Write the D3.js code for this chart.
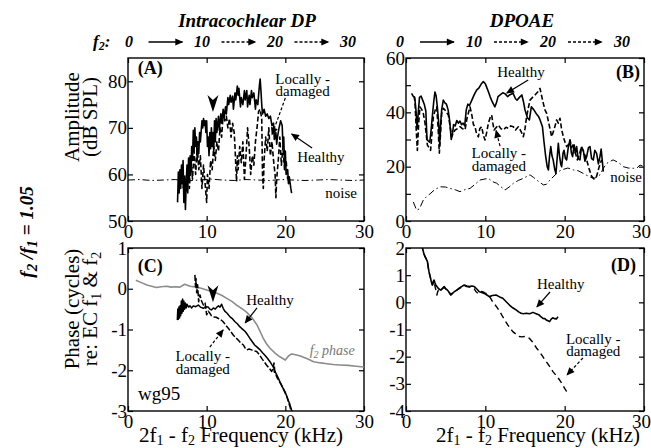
<!DOCTYPE html>
<html><head><meta charset="utf-8">
<script src="https://cdn.jsdelivr.net/npm/d3@7"></script>
<style>
body{margin:0;background:#fff;}
svg{display:block;}
</style></head><body>
<svg id="c" width="651" height="448"></svg>
<script>
// ---------------- DATA ----------------
const freqTicks = [0, 10, 20, 30];
const f2Labels = [0, 10, 20, 30];
const ampIntraTicks = [50, 60, 70, 80];
const ampOaeTicks = [0, 10, 20, 30, 40, 50, 60];
const ampOaeLabels = [0, 20, 40, 60];
const phaseIntraTicks = [-3, -2, -1, 0, 1];
const phaseOaeTicks = [-4, -3, -2, -1, 0, 1, 2];

// (A) intracochlear DP amplitude, dB SPL vs 2f1-f2 kHz
const ampIntraHealthy = [[6.3,54],[6.4,60.5],[6.5,56],[6.6,61],[6.7,57],[6.8,62],[6.9,58],[7.0,63],[7.1,54],[7.2,59],[7.3,52.5],[7.4,58],[7.5,62],[7.6,56],[7.7,63.5],[7.8,59],[7.9,64],[8.0,60],[8.1,66],[8.2,63],[8.3,69.5],[8.4,65],[8.5,70],[8.6,66],[8.7,68],[8.8,63],[8.9,67],[9.0,64.5],[9.1,69],[9.2,67],[9.4,71.5],[9.5,70],[9.6,72],[9.7,70.5],[9.8,71.5],[9.9,69],[10.0,71.5],[10.1,66],[10.2,68],[10.3,64],[10.4,69],[10.5,65.5],[10.6,70],[10.7,66],[10.8,69],[10.9,65],[11.0,71.5],[11.1,67],[11.2,72],[11.3,69],[11.5,72.5],[11.6,69.5],[11.8,73],[11.9,71],[12.1,74],[12.2,72],[12.4,74.5],[12.5,73],[12.7,76.5],[12.8,75],[13.0,77],[13.1,75.5],[13.3,76.8],[13.4,74],[13.6,77.5],[13.7,76],[13.9,79],[14.0,77],[14.1,78.5],[14.3,74.5],[14.4,76.5],[14.6,75],[14.8,78],[14.9,76],[15.1,78],[15.2,74.5],[15.4,77],[15.5,75],[15.7,78],[15.8,76.5],[16.0,77.5],[16.2,74],[16.3,76],[16.5,75],[16.7,79],[16.8,80.5],[16.9,78],[17.0,75],[17.1,73],[17.3,74],[17.5,72.5],[17.7,73],[17.9,72],[18.1,72.5],[18.3,70.5],[18.5,71],[18.6,67.5],[18.8,69],[18.9,66.5],[19.0,68],[19.2,70],[19.4,71.5],[19.6,70.5],[19.7,66],[19.8,68],[19.9,62],[20.0,65],[20.1,60],[20.3,61],[20.4,58],[20.5,59.5],[20.7,57],[20.8,56]];
const ampIntraDamaged = [[7.0,57],[7.2,60],[7.4,56.5],[7.6,61],[7.8,57],[8.0,63],[8.2,59],[8.4,65],[8.6,60],[8.8,66],[9.0,61],[9.2,64],[9.4,57],[9.6,62],[9.8,58],[10.0,54],[10.1,60],[10.3,57],[10.5,63],[10.7,61],[10.9,66],[11.1,63],[11.3,67],[11.5,65],[11.7,70],[11.9,68],[12.1,73],[12.3,71.5],[12.5,72.5],[12.7,70],[12.9,72],[13.1,68],[13.3,71],[13.5,69],[13.6,66],[13.7,62],[13.8,58.5],[13.9,64],[14.0,61],[14.2,66],[14.4,62.5],[14.6,67],[14.8,59],[15.0,64],[15.2,70],[15.4,66],[15.6,60],[15.8,64],[16.0,62],[16.2,67],[16.4,70],[16.6,73.5],[16.8,74],[17.0,72],[17.1,60],[17.2,57],[17.3,63],[17.5,68],[17.7,65],[17.9,70],[18.1,64],[18.3,67],[18.5,63],[18.7,60],[18.8,55],[18.9,59],[19.1,63],[19.3,68],[19.5,62],[19.7,66],[19.9,61],[20.1,63],[20.3,59]];
const ampIntraNoise = [[0,58.8],[1.5,58.9],[3,58.7],[4.5,58.8],[6,58.9],[7.5,58.6],[9,58.8],[10.5,59],[12,58.8],[13.5,58.7],[15,58.9],[16.5,58.8],[18,58.7],[19.5,58.9],[21,58.8],[22.5,58.7],[24,58.8],[25.5,58.9],[27,58.8],[28.5,58.7],[30,58.8]];

// (B) DPOAE amplitude
const ampOaeHealthy = [[0.7,47],[0.9,46],[1.1,45.5],[1.25,41],[1.4,34],[1.55,40],[1.7,45.5],[1.9,46],[2.1,44.5],[2.3,43],[2.5,40.5],[2.65,30],[2.8,29.5],[3.0,29],[3.15,33],[3.35,39.5],[3.5,44],[3.65,47.5],[3.8,46],[3.95,42],[4.1,37],[4.25,28],[4.35,35],[4.5,41],[4.7,44.5],[4.9,43.5],[5.1,43],[5.3,41],[5.5,37],[5.7,30],[5.85,32],[6.0,35.5],[6.2,35],[6.4,37],[6.6,36],[6.8,36.8],[7.0,35.5],[7.2,36],[7.4,35],[7.6,41],[7.8,43],[8.0,42.5],[8.3,44.5],[8.6,46.5],[8.9,48.2],[9.2,49],[9.5,50.5],[9.75,51.3],[10.0,50.5],[10.2,49],[10.4,47.5],[10.6,45.8],[10.85,44],[11.2,42],[11.4,43.5],[11.6,45.8],[11.9,46.5],[12.2,47.2],[12.5,46.8],[12.8,45.8],[13.1,46.5],[13.5,47],[13.8,45],[14.0,44.5],[14.3,45.5],[14.6,46.4],[14.8,44],[15.0,40.9],[15.3,38],[15.55,37.2],[15.8,42],[16.1,41],[16.4,39.6],[16.7,38.5],[16.9,37.2],[17.2,34.7],[17.4,29],[17.6,24],[17.8,20],[17.95,18.8],[18.1,24],[18.25,27.4],[18.4,24],[18.55,22.5],[18.75,19],[18.9,17.5],[19.05,23],[19.2,28.6],[19.35,24],[19.5,21],[19.62,20],[19.8,25],[19.92,26],[20.1,23],[20.25,22.5],[20.45,27],[20.67,29.8],[20.85,25],[21.0,23.7],[21.2,28],[21.35,25],[21.51,27.4],[21.7,23],[21.93,22.5],[22.1,27],[22.35,26],[22.55,22],[22.77,23.7],[23.0,27],[23.19,27.4],[23.4,23],[23.61,22.5],[23.8,26],[24.03,24.9],[24.25,21],[24.45,23.7],[24.6,26.5],[24.75,22],[24.87,18.2]];
const ampOaeDamaged = [[1.0,46],[1.13,44],[1.3,33],[1.43,26],[1.6,36],[1.76,42],[2.0,41],[2.18,39.6],[2.4,36],[2.69,28],[2.9,27],[3.1,26],[3.3,33],[3.45,38.4],[3.7,41],[3.87,42],[4.05,34],[4.2,25],[4.35,32],[4.5,39.6],[4.7,41.5],[4.9,40.9],[5.1,40],[5.34,39],[5.55,35],[5.76,31],[6.0,32.5],[6.18,33.5],[6.5,34],[6.81,34.7],[7.1,34],[7.44,33.5],[7.7,38],[8.07,42],[8.3,39],[8.5,35.5],[8.7,34.7],[8.9,32],[9.12,31],[9.3,34],[9.54,34.7],[9.75,31.5],[9.96,29.8],[10.2,33],[10.38,36],[10.6,38],[10.8,39],[10.95,36],[11.1,33.5],[11.4,34.5],[11.64,35.3],[11.95,34],[12.27,33.5],[12.6,34.5],[12.9,34.1],[13.2,35],[13.53,34.7],[13.8,33.5],[14.16,34.7],[14.5,33],[14.79,31],[15.0,34],[15.2,38.4],[15.45,42],[15.63,44.5],[15.95,45.5],[16.26,46.4],[16.6,47.5],[16.89,48.8],[17.1,46],[17.31,43.3],[17.5,41],[17.73,39.6],[18.0,36],[18.36,31],[18.7,34],[18.99,37.2],[19.2,36],[19.41,37.8],[19.6,34],[19.83,31],[20.05,29],[20.25,27.4],[20.45,28],[20.67,29.8],[20.9,27],[21.09,28.6],[21.35,25],[21.6,22.5],[21.9,25],[22.14,27.4],[22.45,25],[22.77,22.5],[23.1,19],[23.4,16.5],[23.7,15.5],[24.03,16.5],[24.35,20],[24.66,22.5]];
const ampOaeNoise = [[0.92,7],[1.34,4],[1.7,4.5],[2.18,7.7],[2.6,9],[3.03,10],[3.6,11.5],[4.29,12.6],[5.0,12.5],[5.55,12],[6.2,11.5],[6.81,10.8],[7.4,11.5],[8.07,12],[8.7,13.5],[9.33,15.1],[10.38,15.7],[10.9,14.5],[11.43,13.9],[12.0,12.5],[12.48,11.4],[13.0,12.5],[13.53,13.9],[14.2,15],[14.79,15.7],[15.63,17],[16.1,16],[16.47,15.1],[17.31,13.3],[17.7,13.5],[18.15,15.1],[18.99,17.5],[19.4,18.5],[19.83,19],[20.4,19.5],[21.1,18.8],[21.7,18.5],[22.35,17.5],[23.0,16.5],[23.6,15.7],[24.0,16],[24.45,17],[24.9,19.5],[25.3,21.2],[26.1,22.5],[26.8,21.5],[27.4,20],[28.0,19.5],[28.66,19.4],[29.1,19.5],[29.5,20.6],[30,20]];

// (C) intracochlear DP phase, cycles
const phaseIntraHealthy = [[6.27,-0.77],[6.33,-0.5],[6.4,-0.75],[6.47,-0.45],[6.55,-0.72],[6.62,-0.42],[6.7,-0.66],[6.78,-0.3],[6.86,-0.6],[6.94,-0.25],[7.03,-0.55],[7.1,-0.3],[7.2,-0.5],[7.3,-0.35],[7.4,-0.47],[7.5,-0.38],[7.7,-0.45],[7.88,-0.42],[8.1,-0.47],[8.3,-0.42],[8.6,-0.44],[8.94,-0.4],[9.2,-0.45],[9.58,-0.48],[9.9,-0.44],[10.2,-0.45],[10.4,-0.5],[10.6,-0.52],[10.85,-0.47],[11.1,-0.5],[11.3,-0.45],[11.5,-0.42],[11.7,-0.45],[11.9,-0.38],[12.1,-0.48],[12.3,-0.55],[12.6,-0.6],[12.97,-0.69],[13.3,-0.74],[13.6,-0.81],[13.9,-0.86],[14.2,-0.93],[14.55,-0.99],[14.9,-1.05],[15.2,-1.13],[15.5,-1.22],[15.8,-1.3],[16.1,-1.38],[16.45,-1.44],[16.8,-1.5],[17.1,-1.57],[17.4,-1.63],[17.7,-1.7],[18.05,-1.79],[18.4,-1.9],[18.55,-1.95],[18.6,-2.05],[18.7,-2.03],[19.0,-2.15],[19.3,-2.28],[19.6,-2.4],[19.96,-2.53],[20.3,-2.7],[20.6,-2.85],[20.9,-3.05]];
const phaseIntraDamaged = [[8.5,0.34],[8.58,0.05],[8.65,0.25],[8.73,-0.1],[8.85,0.1],[8.98,-0.32],[9.15,-0.15],[9.35,-0.3],[9.58,-0.4],[9.8,-0.35],[10.0,-0.64],[10.2,-0.55],[10.4,-0.6],[10.6,-0.66],[10.85,-0.69],[11.2,-0.7],[11.5,-0.73],[11.8,-0.76],[12.1,-0.81],[12.45,-0.9],[12.75,-0.97],[13.1,-1.06],[13.4,-1.14],[13.7,-1.2],[14.0,-1.26],[14.3,-1.32],[14.66,-1.38],[14.9,-1.46],[15.1,-1.5],[15.4,-1.48],[15.7,-1.5],[16.0,-1.52],[16.36,-1.54],[16.7,-1.62],[17.0,-1.71],[17.3,-1.79],[17.6,-1.87],[17.95,-1.95],[18.26,-2.03],[18.45,-1.95],[18.56,-1.82],[18.65,-2.0],[18.9,-2.16],[19.2,-2.26],[19.5,-2.36],[19.85,-2.5],[20.2,-2.65],[20.4,-2.78],[20.6,-2.9],[20.8,-3.05]];
const phaseF2 = [[1.0,0.21],[1.7,0.15],[2.4,0.09],[3.0,0.06],[3.6,0.03],[4.2,0.05],[4.9,0.06],[5.5,0.04],[6.0,0.05],[6.6,0.04],[7.2,0.11],[7.9,0.06],[8.7,0.04],[9.3,0.01],[10.0,-0.03],[10.7,-0.07],[11.3,-0.11],[11.9,-0.16],[12.5,-0.23],[13.2,-0.31],[13.8,-0.4],[14.5,-0.49],[15.1,-0.58],[15.8,-0.72],[16.4,-0.89],[16.8,-1.05],[17.2,-1.22],[17.6,-1.35],[18.05,-1.46],[18.7,-1.58],[19.3,-1.67],[20.0,-1.75],[20.4,-1.65],[20.8,-1.6],[21.3,-1.62],[21.9,-1.65],[22.8,-1.72],[23.6,-1.79],[24.5,-1.82],[25.3,-1.84],[26.1,-1.86],[26.9,-1.87],[28,-1.88],[29,-1.9],[30,-1.92]];

// (D) DPOAE phase
const phaseOaeHealthy = [[1.95,2.15],[2.07,2.0],[2.25,1.8],[2.4,1.68],[2.55,1.6],[2.7,1.5],[2.8,1.3],[2.9,1.13],[3.0,1.0],[3.1,0.88],[3.2,0.75],[3.33,0.64],[3.45,0.78],[3.54,0.82],[3.65,0.72],[3.75,0.64],[3.9,0.58],[4.05,0.52],[4.2,0.48],[4.39,0.45],[4.6,0.52],[4.81,0.58],[5.0,0.5],[5.23,0.45],[5.45,0.36],[5.65,0.27],[5.85,0.33],[6.08,0.39],[6.4,0.45],[6.7,0.52],[7.0,0.58],[7.34,0.64],[7.65,0.6],[7.97,0.58],[8.3,0.6],[8.6,0.58],[8.9,0.5],[9.24,0.39],[9.55,0.36],[9.87,0.33],[10.2,0.27],[10.5,0.21],[10.9,0.25],[11.35,0.27],[11.8,0.2],[12.2,0.15],[12.6,0.03],[13.04,-0.1],[13.45,-0.2],[13.88,-0.28],[14.2,-0.35],[14.5,-0.4],[14.8,-0.42],[15.15,-0.4],[15.6,-0.42],[16.0,-0.37],[16.4,-0.42],[16.8,-0.47],[17.0,-0.53],[17.26,-0.59],[17.5,-0.6],[17.68,-0.65],[17.9,-0.68],[18.1,-0.71],[18.3,-0.62],[18.5,-0.57],[18.7,-0.6],[18.95,-0.61],[19.16,-0.53]];
const phaseOaeDamaged = [[1.95,2.15],[2.07,2.0],[2.25,1.8],[2.4,1.68],[2.55,1.6],[2.7,1.5],[2.8,1.3],[2.9,1.13],[3.0,1.0],[3.1,0.88],[3.2,0.75],[3.33,0.64],[3.5,0.78],[3.65,0.6],[3.8,0.4],[3.9,0.27],[4.0,0.4],[4.2,0.48],[4.39,0.45],[4.6,0.5],[4.81,0.55],[5.0,0.5],[5.23,0.45],[5.45,0.36],[5.65,0.28],[5.85,0.33],[6.08,0.39],[6.4,0.45],[6.7,0.5],[7.0,0.56],[7.34,0.62],[7.65,0.58],[7.97,0.56],[8.3,0.55],[8.6,0.5],[8.8,0.4],[9.0,0.35],[9.24,0.42],[9.66,0.39],[10.0,0.34],[10.3,0.3],[10.6,0.18],[10.93,0.02],[11.25,-0.1],[11.56,-0.22],[11.9,-0.38],[12.19,-0.53],[12.5,-0.68],[12.83,-0.83],[13.15,-0.96],[13.46,-1.08],[13.9,-1.18],[14.3,-1.26],[14.6,-1.27],[14.94,-1.26],[15.25,-1.28],[15.57,-1.33],[15.9,-1.44],[16.2,-1.57],[16.5,-1.7],[16.84,-1.82],[17.25,-2.0],[17.68,-2.18],[18.1,-2.36],[18.52,-2.55],[18.95,-2.7],[19.37,-2.86],[19.7,-3.01],[20.0,-3.17],[20.2,-3.26],[20.42,-3.35]];

// ---------------- DRAWING ----------------
const FONT = '"Liberation Serif"';
// prime font loading (all styles) before drawing
(function(){
  const cv = document.createElement("canvas").getContext("2d");
  ["", "bold ", "italic ", "italic bold "].forEach(v => {
    cv.font = `${v}20px "Liberation Serif", monospace`;
    cv.measureText("Intracochlear DP 0123456789 (A)");
  });
  if (document.fonts && document.fonts.check) {
    ["", "bold ", "italic ", "italic bold "].forEach(v => document.fonts.check(`${v}20px "Liberation Serif"`));
  }
})();

const svg = d3.select("#c");
svg.append("rect").attr("width", 651).attr("height", 448).attr("fill", "#fff");
const defs = svg.append("defs");
defs.append("marker").attr("id", "ah").attr("viewBox", "0 0 10 10")
  .attr("refX", 9).attr("refY", 5).attr("markerWidth", 9).attr("markerHeight", 8)
  .attr("markerUnits", "userSpaceOnUse").attr("orient", "auto")
  .append("path").attr("d", "M0,0.5 L10,5 L0,9.5 Z").attr("fill", "#000");

const panelDefs = {
  A: {x0:128, x1:364, y0:58, y1:221, ydom:[50,85], ticks:ampIntraTicks, labels:ampIntraTicks, xpad:3},
  B: {x0:406, x1:644, y0:58, y1:221, ydom:[0,60], ticks:ampOaeTicks, labels:ampOaeLabels, xpad:3},
  C: {x0:128, x1:364, y0:248, y1:411, ydom:[-3,1], ticks:phaseIntraTicks, labels:phaseIntraTicks, xpad:4},
  D: {x0:406, x1:644, y0:248, y1:411, ydom:[-4,2], ticks:phaseOaeTicks, labels:phaseOaeTicks, xpad:4}
};
const P = {};
Object.entries(panelDefs).forEach(([id, c]) => {
  const x = d3.scaleLinear().domain([0,30]).range([c.x0, c.x1]);
  const y = d3.scaleLinear().domain(c.ydom).range([c.y1, c.y0]);
  const g = svg.append("g");
  defs.append("clipPath").attr("id", "clip" + id).append("rect")
    .attr("x", c.x0).attr("y", c.y0).attr("width", c.x1 - c.x0).attr("height", c.y1 - c.y0);
  const ax = (axis, tx, ty) => {
    const a = g.append("g").attr("transform", `translate(${tx},${ty})`).call(axis);
    a.attr("font-family", null).attr("font-size", 19);
    a.select(".domain").remove();
    a.selectAll("line").attr("stroke", "#000").attr("stroke-width", 1.2);
    a.selectAll("text").attr("fill", "#000");
    return a;
  };
  ax(d3.axisLeft(y).tickValues(c.ticks).tickSize(-5).tickFormat(""), c.x0, 0);
  ax(d3.axisRight(y).tickValues(c.ticks).tickSize(-5).tickFormat(""), c.x1, 0);
  ax(d3.axisTop(x).tickValues(freqTicks).tickSize(-5).tickFormat(""), 0, c.y0);
  ax(d3.axisBottom(x).tickValues(freqTicks).tickSize(-5).tickFormat(""), 0, c.y1);
  ax(d3.axisLeft(y).tickValues(c.labels).tickSize(0).tickPadding(1).tickFormat(d => String(d)), c.x0, 0);
  const xl = ax(d3.axisBottom(x).tickValues(freqTicks).tickSize(0).tickPadding(c.xpad).tickFormat(d => String(d)), 0, c.y1);
  if (c.x1 > 600) xl.selectAll("text").filter(d => d === 30).attr("dx", -3);
  g.append("rect").attr("x", c.x0).attr("y", c.y0).attr("width", c.x1 - c.x0).attr("height", c.y1 - c.y0)
    .attr("fill", "none").attr("stroke", "#000").attr("stroke-width", 1.4);
  const plot = svg.append("g").attr("clip-path", `url(#clip${id})`);
  P[id] = {x, y, g, plot, c};
});

function series(id, data, style) {
  const {x, y, plot} = P[id];
  const line = d3.line().x(d => x(d[0])).y(d => y(d[1]));
  plot.append("path").datum(data).attr("d", line).attr("fill", "none")
    .attr("stroke", style.color || "#000").attr("stroke-width", style.w || 1.5)
    .attr("stroke-dasharray", style.dash || null).attr("stroke-linejoin", "round");
}
const SOLID = {w:1.6}, DASH = {w:1.6, dash:"5,2.5"}, NOISE = {w:1, dash:"7,3,1.5,3"};
series("A", ampIntraNoise, NOISE);
series("A", ampIntraDamaged, DASH);
series("A", ampIntraHealthy, SOLID);
series("B", ampOaeNoise, NOISE);
series("B", ampOaeDamaged, DASH);
series("B", ampOaeHealthy, SOLID);
series("C", phaseF2, {w:1.6, color:"#8c8c8c"});
series("C", phaseIntraDamaged, {w:1.5, dash:"6,2"});
series("C", phaseIntraHealthy, {w:1.5});
series("D", phaseOaeDamaged, {w:1.4, dash:"6,4"});
series("D", phaseOaeHealthy, {w:1.6});

function txt(id, xv, yv, s, o = {}) {
  const {x, y} = P[id];
  return svg.append("text").attr("x", x(xv)).attr("y", y(yv)).text(s)
    .attr("font-size", o.size || 14).attr("text-anchor", o.anchor || "middle")
    .attr("font-weight", o.weight || null).attr("font-style", o.style || null)
    .attr("fill", o.color || "#000");
}
function arrow(id, xa, ya, xb, yb, dashed) {
  const {x, y} = P[id];
  svg.append("line").attr("x1", x(xa)).attr("y1", y(ya)).attr("x2", x(xb)).attr("y2", y(yb))
    .attr("stroke", "#000").attr("stroke-width", 1.2)
    .attr("stroke-dasharray", dashed ? "3,2" : null).attr("marker-end", "url(#ah)");
}
function downMark(id, xv, yv) {
  const {x, y} = P[id];
  const cx = x(xv), ty = y(yv);
  svg.append("path").attr("d", `M${cx},${ty} L${cx-5.5},${ty-17} L${cx},${ty-12} L${cx+5.5},${ty-17} Z`).attr("fill", "#000");
}

// Panel labels
txt("A", 1.25, 81.5, "(A)", {size:18, weight:"bold", anchor:"start"});
txt("B", 29.5, 52.5, "(B)", {size:18, weight:"bold", anchor:"end"});
txt("C", 1.25, 0.41, "(C)", {size:18, weight:"bold", anchor:"start"});
txt("D", 29.0, 1.15, "(D)", {size:18, weight:"bold", anchor:"end"});

// Panel A annotations
txt("A", 22.2, 79.4, "Locally -", {size:15});
txt("A", 22.2, 76.8, "damaged", {size:15});
arrow("A", 20.0, 76.4, 18.3, 68.5, true);
txt("A", 21.5, 62.7, "Healthy", {anchor:"start", size:15});
arrow("A", 23.4, 65.7, 20.8, 68.7, false);
txt("A", 29.1, 54.9, "noise", {anchor:"end", size:15});
downMark("A", 10.8, 73.4);

// Panel B annotations
txt("B", 14.5, 53, "Healthy", {size:15});
arrow("B", 15.4, 51.9, 12.7, 47.1, false);
txt("B", 11.7, 23.2, "Locally -", {size:15});
txt("B", 11.7, 18.4, "damaged", {size:15});
arrow("B", 11.85, 27.6, 11.35, 33.3, true);
txt("B", 29.75, 14.4, "noise", {anchor:"end", size:15});

// Panel C annotations
txt("C", 18.05, -0.4, "Healthy", {size:15});
arrow("C", 16.4, -0.47, 14.9, -0.84, false);
txt("C", 9.5, -1.77, "Locally -", {size:15});
txt("C", 9.5, -2.09, "damaged", {size:15});
arrow("C", 10.4, -1.43, 12.1, -1.01, true);
txt("C", 1.27, -2.73, "wg95", {size:19, anchor:"start"});
const f2p = txt("C", 23.1, -1.63, "", {size:14, anchor:"start", style:"italic", color:"#777"});
f2p.append("tspan").text("f");
f2p.append("tspan").text("2").attr("font-size", 10).attr("dy", 3);
f2p.append("tspan").text(" phase").attr("dy", -3);
downMark("C", 10.8, -0.33);

// Panel D annotations
txt("D", 19.5, 0.49, "Healthy", {size:15});
arrow("D", 18.15, 0.38, 16.5, -0.17, false);
txt("D", 23.6, -1.53, "Locally -", {size:15});
txt("D", 23.6, -1.97, "damaged", {size:15});
arrow("D", 22.3, -2.05, 20.3, -2.67, true);

// Axis titles
(function(){
  const t = svg.append("g").attr("transform", `translate(79,117) rotate(-90)`);
  t.append("text").attr("text-anchor", "middle").attr("font-size", 21).text("Amplitude");
  t.append("text").attr("y", 18).attr("text-anchor", "middle").attr("font-size", 21).text("(dB SPL)");
})();
(function(){
  const t = svg.append("g").attr("transform", `translate(79,309) rotate(-90)`);
  t.append("text").attr("text-anchor", "middle").attr("font-size", 21).text("Phase (cycles)");
  const te = t.append("text").attr("y", 18).attr("text-anchor", "middle").attr("font-size", 21);
  te.append("tspan").text("re: EC f");
  te.append("tspan").text("1").attr("font-size", 14).attr("dy", 4);
  te.append("tspan").text(" & f").attr("dy", -4);
  te.append("tspan").text("2").attr("font-size", 14).attr("dy", 4);
})();

function xTitle(cx, by) {
  const te = svg.append("text").attr("x", cx).attr("y", by).attr("text-anchor", "middle").attr("font-size", 21);
  te.append("tspan").text("2f");
  te.append("tspan").text("1").attr("font-size", 14).attr("dy", 3);
  te.append("tspan").text(" - f").attr("dy", -3);
  te.append("tspan").text("2").attr("font-size", 14).attr("dy", 3);
  te.append("tspan").text(" Frequency (kHz)").attr("dy", -3);
}
xTitle(241, 442);
xTitle(538, 442);

// Top titles
svg.append("text").attr("x", 247).attr("y", 27).attr("text-anchor", "middle").attr("font-size", 19)
  .attr("font-weight", "bold").attr("font-style", "italic").text("Intracochlear DP");
svg.append("text").attr("x", 522).attr("y", 27).attr("text-anchor", "middle").attr("font-size", 19)
  .attr("font-weight", "bold").attr("font-style", "italic").text("DPOAE");

// f2 rows
const f2lab = svg.append("text").attr("x", 93).attr("y", 47).attr("font-size", 17)
  .attr("font-weight", "bold").attr("font-style", "italic");
f2lab.append("tspan").text("f");
f2lab.append("tspan").text("2").attr("font-size", 12).attr("dy", 3);
f2lab.append("tspan").text(":").attr("dy", -3);
function f2Row(r0, r1) {
  const s = d3.scaleLinear().domain([0, 30]).range([r0, r1]);
  f2Labels.forEach(v => {
    svg.append("text").attr("x", s(v)).attr("y", 47).attr("text-anchor", "middle").attr("font-size", 16)
      .attr("font-weight", "bold").attr("font-style", "italic").text(String(v));
  });
  for (let i = 0; i < f2Labels.length - 1; i++) {
    const m = (s(f2Labels[i]) + s(f2Labels[i + 1])) / 2;
    svg.append("line").attr("x1", m - 17).attr("y1", 42).attr("x2", m + 17).attr("y2", 42)
      .attr("stroke", "#000").attr("stroke-width", 1.3)
      .attr("stroke-dasharray", i === 0 ? null : "3,2").attr("marker-end", "url(#ah)");
  }
}
f2Row(129, 348);
f2Row(400, 622);

// Left ratio label
(function(){
  const t = svg.append("text").attr("transform", "translate(33,232) rotate(-90)").attr("text-anchor", "middle")
    .attr("font-size", 19).attr("font-weight", "bold").attr("font-style", "italic");
  t.append("tspan").text("f");
  t.append("tspan").text("2").attr("font-size", 15).attr("dy", 4);
  t.append("tspan").text(" /f").attr("dy", -4);
  t.append("tspan").text("1").attr("font-size", 15).attr("dy", 4);
  t.append("tspan").text(" = 1.05").attr("dy", -4);
})();

// font inline on every text and tspan
svg.selectAll("text, tspan").style("font-family", FONT);
svg.selectAll("text").each(function(){ this.setAttribute("font-family", "Liberation Serif"); });
</script></body></html>
